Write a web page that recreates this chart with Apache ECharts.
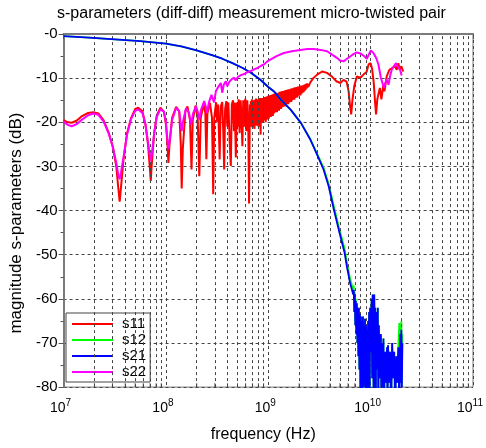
<!DOCTYPE html>
<html><head><meta charset="utf-8">
<script src="https://cdn.jsdelivr.net/npm/echarts@6/dist/echarts.min.js"></script>
<style>html,body{margin:0;padding:0;background:#fff}#c{width:486px;height:448px}</style>
</head><body><div id="c"></div>
<script>
// [log10(frequency/Hz), dB]
const s11 = [[7.00,-19.5],[7.04,-20.0],[7.08,-20.1],[7.13,-19.6],[7.18,-18.6],[7.24,-17.9],[7.29,-17.7],[7.34,-18.0],[7.39,-19.5],[7.44,-22.3],[7.48,-25.5],[7.515,-30.0],[7.535,-35.0],[7.548,-38.0],[7.56,-35.0],[7.585,-28.5],[7.62,-22.5],[7.66,-19.0],[7.70,-17.0],[7.73,-16.7],[7.77,-17.5],[7.80,-20.5],[7.825,-25.0],[7.845,-31.0],[7.852,-33.3],[7.86,-30.0],[7.885,-22.5],[7.91,-18.5],[7.946,-16.7],[7.98,-17.6],[8.00,-20.5],[8.015,-25.0],[8.024,-29.2],[8.035,-25.0],[8.06,-19.0],[8.10,-16.5],[8.13,-17.5],[8.145,-25.0],[8.154,-35.0],[8.165,-26.0],[8.19,-17.5],[8.21,-16.4],[8.235,-19.5],[8.25,-30.7],[8.262,-19.5],[8.29,-16.2],[8.31,-19.0],[8.326,-32.2],[8.34,-19.0],[8.37,-15.8],[8.385,-18.0],[8.395,-28.4],[8.405,-18.0],[8.43,-15.6],[8.45,-19.0],[8.462,-36.3],[8.472,-19.0],[8.49,-15.5],[8.50,-20.0],[8.51,-16.0],[8.525,-28.4],[8.535,-16.5],[8.55,-15.4],[8.56,-22.0],[8.569,-30.7],[8.578,-17.0],[8.59,-15.2],[8.60,-21.0],[8.61,-15.5],[8.622,-24.0],[8.634,-29.9],[8.644,-16.0],[8.655,-15.0],[8.665,-22.0],[8.672,-15.5],[8.683,-28.0],[8.693,-15.5],[8.70,-21.0],[8.71,-14.8],[8.72,-22.5],[8.73,-15.0],[8.74,-20.0],[8.747,-25.4],[8.755,-15.0],[8.765,-21.0],[8.775,-14.7],[8.785,-22.0],[8.795,-15.0],[8.805,-21.5],[8.812,-38.4],[8.82,-16.0],[8.825,-21.0],[8.83,-15.2],[8.835,-20.4],[8.84,-14.8],[8.845,-21.2],[8.85,-15.3],[8.855,-20.5],[8.86,-15.0],[8.865,-21.5],[8.87,-14.9],[8.875,-20.2],[8.88,-14.6],[8.885,-20.8],[8.89,-15.1],[8.895,-20.0],[8.90,-14.8],[8.905,-21.0],[8.91,-14.7],[8.915,-20.3],[8.92,-14.5],[8.925,-22.8],[8.93,-14.9],[8.935,-20.1],[8.94,-14.5],[8.945,-20.0],[8.95,-14.6],[8.955,-19.6],[8.96,-14.3],[8.965,-19.5],[8.97,-14.4],[8.975,-20.0],[8.98,-14.2],[8.985,-19.4],[8.99,-14.1],[8.995,-19.0],[9.00,-14.0],[9.005,-19.2],[9.01,-14.0],[9.015,-18.5],[9.02,-13.8],[9.025,-18.8],[9.03,-13.9],[9.035,-18.2],[9.04,-13.7],[9.045,-18.6],[9.05,-13.6],[9.055,-18.0],[9.06,-13.5],[9.065,-17.8],[9.07,-13.6],[9.075,-17.5],[9.08,-13.4],[9.085,-17.7],[9.09,-13.3],[9.095,-17.2],[9.10,-13.3],[9.105,-17.4],[9.11,-13.1],[9.115,-16.9],[9.12,-13.2],[9.125,-17.0],[9.13,-13.0],[9.135,-16.6],[9.14,-12.9],[9.145,-16.5],[9.15,-13.0],[9.155,-16.3],[9.16,-12.8],[9.165,-16.4],[9.17,-12.7],[9.175,-16.0],[9.18,-12.7],[9.185,-15.8],[9.19,-12.6],[9.195,-15.9],[9.20,-12.5],[9.205,-15.5],[9.21,-12.5],[9.215,-15.3],[9.22,-12.4],[9.225,-15.4],[9.23,-12.3],[9.235,-15.0],[9.24,-12.3],[9.245,-14.8],[9.25,-12.2],[9.255,-14.9],[9.26,-12.1],[9.265,-14.5],[9.27,-12.1],[9.275,-14.3],[9.28,-12.0],[9.285,-14.4],[9.29,-11.9],[9.295,-14.0],[9.30,-11.9],[9.305,-13.8],[9.31,-11.8],[9.315,-13.9],[9.32,-11.7],[9.325,-13.5],[9.33,-11.7],[9.335,-13.3],[9.34,-11.6],[9.345,-13.2],[9.35,-11.5],[9.355,-12.9],[9.36,-11.4],[9.365,-12.6],[9.37,-11.3],[9.375,-12.3],[9.38,-11.2],[9.39,-12.0],[9.41,-11.0],[9.44,-10.0],[9.477,-9.2],[9.526,-8.5],[9.574,-8.8],[9.62,-9.6],[9.665,-10.7],[9.704,-11.1],[9.735,-10.4],[9.765,-10.8],[9.785,-13.0],[9.80,-16.5],[9.81,-18.2],[9.822,-15.0],[9.84,-11.8],[9.866,-9.6],[9.90,-9.9],[9.93,-9.2],[9.96,-8.6],[9.98,-6.9],[10.00,-6.6],[10.015,-8.0],[10.03,-11.0],[10.045,-16.0],[10.053,-18.2],[10.065,-14.8],[10.09,-12.2],[10.105,-14.8],[10.124,-11.5],[10.135,-13.0],[10.157,-9.6],[10.183,-8.1],[10.21,-7.7],[10.238,-7.3],[10.255,-8.1],[10.27,-6.6],[10.285,-8.1],[10.30,-7.3],[10.318,-8.5]];

const s12 = [[7.00,-0.5],[7.25,-0.8],[7.50,-1.2],[7.75,-1.6],[8.00,-2.2],[8.15,-2.8],[8.30,-3.7],[8.45,-4.8],[8.55,-5.6],[8.65,-6.6],[8.75,-7.7],[8.83,-8.8],[8.92,-10.3],[9.00,-12.0],[9.06,-13.1],[9.12,-14.8],[9.22,-17.2],[9.32,-20.2],[9.41,-23.8],[9.48,-27.3],[9.54,-30.3],[9.59,-34.0],[9.64,-39.0],[9.69,-43.8],[9.745,-48.6],[9.77,-52.0],[9.80,-55.5],[9.83,-58.0],[9.835,-57.0],[9.84,-63.0],[9.845,-58.5],[9.85,-66.0],[9.855,-60.0],[9.86,-68.0],[9.865,-61.0],[9.87,-70.0],[9.875,-62.0],[9.88,-73.0],[9.885,-62.0],[9.89,-76.0],[9.895,-63.5],[9.90,-85.0],[9.905,-64.0],[9.91,-78.0],[9.915,-65.0],[9.92,-85.0],[9.925,-64.0],[9.93,-85.0],[9.935,-66.0],[9.94,-76.0],[9.945,-64.5],[9.95,-85.0],[9.955,-66.0],[9.96,-74.0],[9.965,-67.0],[9.97,-85.0],[9.975,-65.0],[9.98,-75.0],[9.985,-63.0],[9.99,-85.0],[9.995,-62.0],[10.00,-72.0],[10.01,-60.0],[10.015,-78.0],[10.02,-59.0],[10.03,-85.0],[10.035,-59.0],[10.04,-70.0],[10.045,-62.0],[10.05,-85.0],[10.055,-63.0],[10.06,-76.0],[10.07,-62.0],[10.075,-85.0],[10.08,-66.0],[10.09,-78.0],[10.10,-68.0],[10.105,-85.0],[10.11,-70.0],[10.12,-80.0],[10.125,-69.0],[10.13,-85.0],[10.14,-72.0],[10.15,-79.0],[10.16,-71.0],[10.165,-85.0],[10.17,-70.5],[10.18,-79.0],[10.19,-72.0],[10.20,-85.0],[10.21,-70.0],[10.22,-78.0],[10.23,-72.0],[10.24,-85.0],[10.25,-73.0],[10.26,-79.0],[10.27,-71.0],[10.28,-65.5],[10.29,-68.0],[10.295,-79.0],[10.30,-65.0],[10.305,-80.0],[10.31,-68.0]];

const s21 = [[7.00,-0.5],[7.25,-0.8],[7.50,-1.2],[7.75,-1.6],[8.00,-2.2],[8.15,-2.8],[8.30,-3.7],[8.45,-4.8],[8.55,-5.6],[8.65,-6.6],[8.75,-7.7],[8.83,-8.8],[8.92,-10.3],[9.00,-12.0],[9.06,-13.1],[9.12,-14.8],[9.22,-17.2],[9.32,-20.2],[9.41,-23.9],[9.48,-27.5],[9.54,-30.7],[9.59,-34.5],[9.64,-39.7],[9.69,-44.5],[9.745,-49.5],[9.77,-53.0],[9.80,-56.5],[9.83,-59.0],[9.835,-58.0],[9.84,-63.0],[9.845,-59.0],[9.85,-66.0],[9.855,-60.5],[9.86,-68.0],[9.865,-61.0],[9.87,-70.0],[9.875,-62.0],[9.88,-73.0],[9.885,-62.0],[9.89,-76.0],[9.895,-63.5],[9.90,-82.0],[9.905,-64.0],[9.91,-78.0],[9.915,-65.0],[9.92,-85.0],[9.925,-64.0],[9.93,-80.0],[9.935,-66.0],[9.94,-76.0],[9.945,-64.5],[9.95,-85.0],[9.955,-66.0],[9.96,-74.0],[9.965,-67.0],[9.97,-85.0],[9.975,-65.0],[9.98,-75.0],[9.985,-63.0],[9.99,-85.0],[9.995,-62.0],[10.00,-72.0],[10.01,-60.0],[10.015,-78.0],[10.02,-59.0],[10.03,-85.0],[10.035,-59.0],[10.04,-70.0],[10.045,-62.0],[10.05,-85.0],[10.055,-63.0],[10.06,-76.0],[10.07,-62.0],[10.075,-85.0],[10.08,-66.0],[10.09,-78.0],[10.10,-68.0],[10.105,-85.0],[10.11,-70.0],[10.12,-80.0],[10.125,-69.0],[10.13,-85.0],[10.14,-72.0],[10.15,-79.0],[10.16,-71.0],[10.165,-85.0],[10.17,-70.5],[10.18,-79.0],[10.19,-72.0],[10.20,-85.0],[10.21,-70.0],[10.22,-78.0],[10.23,-72.0],[10.24,-85.0],[10.25,-73.0],[10.26,-79.0],[10.27,-71.0],[10.28,-85.0],[10.29,-68.0],[10.295,-79.0],[10.30,-67.0],[10.305,-80.0],[10.31,-70.0]];

const s22 = [[7.00,-19.8],[7.04,-20.6],[7.08,-20.9],[7.13,-20.4],[7.18,-19.4],[7.24,-18.4],[7.29,-18.0],[7.34,-18.3],[7.39,-19.8],[7.44,-22.5],[7.48,-25.5],[7.515,-29.2],[7.535,-32.0],[7.548,-32.9],[7.56,-31.5],[7.585,-28.0],[7.62,-22.8],[7.66,-19.2],[7.70,-17.4],[7.73,-17.1],[7.77,-17.9],[7.80,-20.5],[7.825,-24.5],[7.845,-28.0],[7.852,-28.8],[7.86,-27.5],[7.885,-22.5],[7.91,-18.8],[7.946,-17.0],[7.98,-17.6],[8.00,-20.0],[8.015,-24.0],[8.024,-26.1],[8.035,-24.5],[8.06,-19.5],[8.10,-16.7],[8.13,-17.6],[8.145,-20.5],[8.154,-22.0],[8.165,-20.0],[8.196,-16.8],[8.225,-17.8],[8.245,-20.5],[8.265,-18.0],[8.293,-16.4],[8.31,-17.5],[8.325,-19.4],[8.345,-17.0],[8.374,-15.2],[8.39,-16.5],[8.40,-17.9],[8.42,-15.5],[8.445,-13.8],[8.456,-13.7],[8.47,-15.5],[8.488,-13.0],[8.51,-12.0],[8.536,-11.1],[8.55,-13.3],[8.565,-11.5],[8.585,-10.7],[8.60,-11.8],[8.62,-10.8],[8.645,-10.2],[8.666,-9.9],[8.68,-10.5],[8.70,-9.8],[8.725,-9.4],[8.747,-9.2],[8.77,-9.0],[8.80,-8.6],[8.83,-8.4],[8.86,-8.0],[8.894,-7.7],[8.93,-7.2],[8.958,-6.9],[8.99,-6.2],[9.02,-5.8],[9.08,-5.0],[9.152,-4.3],[9.23,-3.9],[9.315,-3.6],[9.38,-3.4],[9.444,-3.4],[9.51,-3.6],[9.574,-3.9],[9.62,-4.6],[9.67,-5.4],[9.70,-6.0],[9.735,-6.2],[9.77,-5.6],[9.80,-5.1],[9.835,-4.5],[9.866,-4.2],[9.90,-4.4],[9.935,-5.0],[9.963,-5.6],[9.985,-4.5],[10.002,-3.7],[10.03,-4.4],[10.055,-5.5],[10.076,-6.9],[10.10,-9.9],[10.13,-12.2],[10.145,-11.0],[10.157,-10.3],[10.175,-11.5],[10.19,-9.5],[10.206,-8.1],[10.23,-7.2],[10.248,-6.6],[10.262,-7.3],[10.287,-8.1],[10.303,-9.4]];

const seriesNames = ['s11','s12','s21','s22'];
const seriesColors = ['#ff0000','#00ff00','#0000ff','#ff00ff'];
const seriesWidths = [2, 1.8, 1.8, 2];
const decadeExponents = [7,8,9,10];
const minorMultipliers = [2,3,4,5,6,7,8,9];
const yTickLabels = {0:'-0'};

const FONT = 'Liberation Sans, Arial, sans-serif';
const toHz = arr => arr.map(p => [Math.pow(10, p[0]), p[1]]);
const minorX = [];
decadeExponents.forEach(e => minorMultipliers.forEach(m => minorX.push(m * Math.pow(10, e))));

const chart = echarts.init(document.getElementById('c'), null, {renderer:'canvas'});
const dataSets = [s11, s12, s21, s22];
const lineSeries = dataSets.map((d, i) => ({
  name: seriesNames[i], type: 'line', data: toHz(d), showSymbol: false, symbol: 'none',
  lineStyle: {color: seriesColors[i], width: seriesWidths[i]}, itemStyle: {color: seriesColors[i]},
  z: 3 + i, clip: true, animation: false, silent: true
}));

chart.setOption({
  animation: false,
  backgroundColor: '#fff',
  textStyle: {fontFamily: FONT},
  title: {
    text: 's-parameters (diff-diff) measurement micro-twisted pair',
    left: 57, top: 6, padding: 0,
    textStyle: {fontFamily: FONT, fontSize: 16, fontWeight: 'normal', color: '#000'}
  },
  grid: {left: 62, right: 13, top: 34, bottom: 60, show: true, borderColor: '#777', borderWidth: 1, backgroundColor: 'transparent'},
  legend: {
    data: seriesNames, orient: 'vertical', left: 66, top: 313,
    backgroundColor: '#fff', borderColor: '#444', borderWidth: 1, borderRadius: 0,
    padding: [3, 4, 2, 6], itemWidth: 41, itemHeight: 2, itemGap: 0, icon: 'rect',
    textStyle: {fontFamily: FONT, fontSize: 15, color: '#000', lineHeight: 16, padding: [0,0,0,4]}
  },
  xAxis: {
    type: 'log', logBase: 10, min: 1e7, max: 1e11,
    name: 'frequency (Hz)', nameLocation: 'middle', nameGap: 38,
    nameTextStyle: {fontFamily: FONT, fontSize: 16, color: '#000', padding: [0,10,0,0]},
    axisLine: {lineStyle: {color: '#7a7a7a', width: 2}},
    axisTick: {show: true, length: 5, lineStyle: {color: '#555'}},
    splitLine: {show: true, lineStyle: {type: [3,3], color: '#444', width: 1}},
    axisLabel: {
      margin: 11, padding: [0,6,0,0],
      formatter: v => '{b|10}{s|' + Math.round(Math.log10(v)) + '}',
      rich: {
        b: {fontFamily: FONT, fontSize: 14, lineHeight: 17, verticalAlign: 'bottom', color: '#000'},
        s: {fontFamily: FONT, fontSize: 10, lineHeight: 11, verticalAlign: 'top', padding: [0,0,14,0], color: '#000'}
      }
    }
  },
  yAxis: {
    type: 'value', min: -80, max: 0, interval: 10,
    name: 'magnitude s-parameters (dB)', nameLocation: 'middle', nameGap: 31,
    nameTextStyle: {fontFamily: FONT, fontSize: 17, color: '#000', padding: [0,25,0,0]},
    axisLine: {show: true, lineStyle: {color: '#7a7a7a', width: 2}},
    axisTick: {show: true, length: 5, lineStyle: {color: '#555'}},
    minorTick: {show: true, splitNumber: 2, length: 3, lineStyle: {color: '#555'}},
    splitLine: {show: true, lineStyle: {type: [3,3], color: '#444', width: 1}},
    axisLabel: {fontFamily: FONT, fontSize: 15, color: '#000', margin: 6,
      formatter: v => (yTickLabels[v] !== undefined ? yTickLabels[v] : String(v))}
  },
  series: [
    {
      name: 'minorgrid', type: 'scatter', z: 1, silent: true, animation: false,
      data: minorX.map(x => [x, -80]),
      symbol: 'rect', symbolSize: [1, 4], symbolOffset: [0, -2],
      itemStyle: {color: '#555'},
      markLine: {
        silent: true, animation: false, symbol: ['none','none'], label: {show: false},
        lineStyle: {type: [3,3], color: '#444', width: 1},
        emphasis: {disabled: true},
        data: minorX.map(x => ({xAxis: x}))
      }
    }
  ].concat(lineSeries)
});
</script></body></html>
